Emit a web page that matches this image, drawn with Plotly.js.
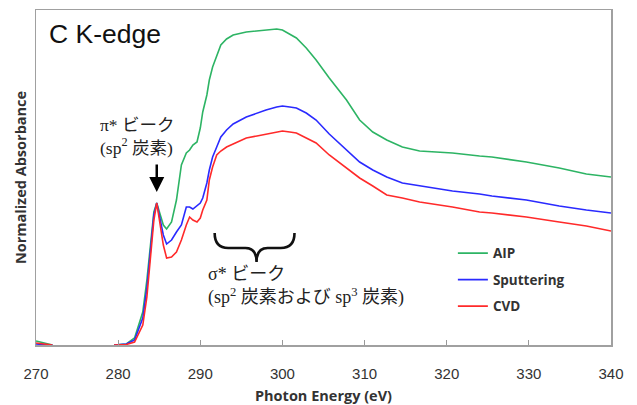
<!DOCTYPE html>
<html>
<head>
<meta charset="utf-8">
<script src="https://cdn.plot.ly/plotly-3.0.1.min.js"></script>
<style>html,body{margin:0;padding:0;background:#fff;}#chart{width:637px;height:405px;}</style>
</head>
<body>
<div id="chart"></div>
<script>
// Photon energy (eV)
const energy = [270, 271, 272, 276, 279.5, 281, 282, 283, 283.5, 284,
  284.35, 284.7, 285.1, 285.5, 285.9, 286.5, 287.1, 287.7, 288.3, 288.7,
  289.1, 289.6, 290, 290.3, 290.8, 291.1, 291.5, 292, 292.5, 293.2,
  294, 295.6, 296.9, 298, 299.3, 300, 300.9, 301.7, 302.9, 304.1,
  305.7, 307.8, 309.4, 311, 312.7, 314.6, 316.7, 320.7, 324, 325.5,
  329.7, 333.7, 337, 340];

// Normalized absorbance (arbitrary units)
const aip = [0.04, 0.02, 0, null, 0, 0.01, 0.07, 0.33, 0.65, 1.05,
  1.33, 1.42, 1.30, 1.20, 1.16, 1.23, 1.45, 1.80, 1.92, 1.95,
  2.00, 2.03, 2.17, 2.33, 2.50, 2.65, 2.78, 2.90, 3.00, 3.06,
  3.10, 3.13, 3.14, 3.15, 3.16, 3.15, 3.11, 3.07, 2.97, 2.85,
  2.67, 2.45, 2.25, 2.13, 2.05, 1.98, 1.94, 1.92, 1.89, 1.88,
  1.83, 1.77, 1.71, 1.68];

const sputtering = [0.01, 0.005, 0, null, 0, 0.01, 0.05, 0.27, 0.57, 1.00,
  1.30, 1.42, 1.25, 1.10, 1.01, 1.05, 1.13, 1.20, 1.38, 1.38,
  1.36, 1.39, 1.42, 1.47, 1.62, 1.75, 1.88, 1.98, 2.08, 2.15,
  2.21, 2.28, 2.32, 2.35, 2.38, 2.39, 2.38, 2.37, 2.32, 2.25,
  2.11, 1.95, 1.83, 1.75, 1.68, 1.62, 1.59, 1.54, 1.51, 1.49,
  1.45, 1.39, 1.35, 1.32];

const cvd = [0.02, 0.01, 0, null, 0, 0.005, 0.03, 0.20, 0.48, 0.92,
  1.25, 1.42, 1.20, 1.00, 0.87, 0.88, 0.93, 1.05, 1.20, 1.28,
  1.25, 1.23, 1.27, 1.35, 1.45, 1.65, 1.78, 1.90, 1.94, 1.98,
  2.01, 2.07, 2.09, 2.11, 2.13, 2.14, 2.13, 2.12, 2.07, 2.02,
  1.90, 1.77, 1.67, 1.59, 1.50, 1.47, 1.43, 1.38, 1.33, 1.32,
  1.28, 1.23, 1.19, 1.14];

const seriesNames = ['AIP', 'Sputtering', 'CVD'];
const seriesColors = ['#2db464', '#2a2aff', '#ff2a2a'];
const seriesData = [aip, sputtering, cvd];
const tickVals = [270, 280, 290, 300, 310, 320, 330, 340];

const traces = seriesData.map((ys, i) => ({
  type: 'scatter', mode: 'lines', x: energy, y: ys,
  name: seriesNames[i], legendgroup: 'g' + i,
  connectgaps: false,
  line: {color: seriesColors[i], width: 1.6}
}));

const serif = "'Liberation Serif', 'Times New Roman', 'Noto Sans CJK JP', serif";
const sans = "'Open Sans', sans-serif";

const layout = {
  width: 637, height: 405,
  margin: {l: 36, r: 26, t: 10, b: 60},
  paper_bgcolor: '#ffffff', plot_bgcolor: '#ffffff',
  showlegend: true,
  legend: {
    x: 0.725, y: 0.32, xanchor: 'left', yanchor: 'top',
    bgcolor: 'rgba(0,0,0,0)', tracegroupgap: 6,
    font: {family: sans, size: 13.5, color: '#333', weight: 700}
  },
  xaxis: {
    range: [270, 340], tickvals: tickVals,
    ticks: 'inside', ticklen: 5, tickwidth: 1, tickcolor: '#999',
    showline: true, mirror: true, linecolor: '#a0a0a0', linewidth: 1.5,
    showgrid: false, zeroline: false,
    tickfont: {family: "'Liberation Sans', Arial, sans-serif", size: 15, color: '#333'},
    ticklabelstandoff: 14,
    title: {text: 'Photon Energy (eV)', standoff: 12,
      font: {family: sans, size: 14.5, color: '#333', weight: 700}}
  },
  yaxis: {
    range: [0, 3.35], showticklabels: false, ticks: '',
    showline: true, mirror: true, linecolor: '#a0a0a0', linewidth: 1.5,
    showgrid: false, zeroline: false,
    title: {text: 'Normalized Absorbance', standoff: 4,
      font: {family: sans, size: 14.5, color: '#333', weight: 700}}
  },
  annotations: [
    {xref: 'x', yref: 'y', x: 271.3, y: 3.11, xanchor: 'left', yanchor: 'middle',
     text: 'C K-edge', showarrow: false,
     font: {family: "'Liberation Sans', Arial, sans-serif", size: 26.5, color: '#111'}},
    {xref: 'x', yref: 'y', x: 277.6, y: 2.085, xanchor: 'left', yanchor: 'middle', align: 'left',
     text: 'π* ビーク<br>(sp<sup>2</sup> 炭素)', showarrow: false,
     font: {family: serif, size: 17.5, color: '#222'}},
    {xref: 'x', yref: 'y', x: 284.7, y: 1.53, text: '', showarrow: true,
     ax: 0, ay: -29, arrowhead: 2, arrowsize: 1.2, arrowwidth: 2.5, arrowcolor: '#000'},
    {xref: 'x', yref: 'y', x: 290.7, y: 0.595, xanchor: 'left', yanchor: 'middle', align: 'left',
     text: 'σ* ビーク<br>(sp<sup>2</sup> 炭素および sp<sup>3</sup> 炭素)', showarrow: false,
     font: {family: serif, size: 18, color: '#222'}}
  ],
  shapes: [
    {type: 'path', xref: 'x', yref: 'y',
     path: 'M 291.75,1.12 Q 291.75,0.97 293.4,0.97 L 295.5,0.97 Q 296.85,0.97 296.85,0.83 Q 296.85,0.97 298.2,0.97 L 299.8,0.97 Q 301.47,0.97 301.47,1.12',
     line: {color: '#111', width: 2.6}}
  ]
};

Plotly.newPlot('chart', traces, layout, {staticPlot: true, displayModeBar: false});
</script>
</body>
</html>
